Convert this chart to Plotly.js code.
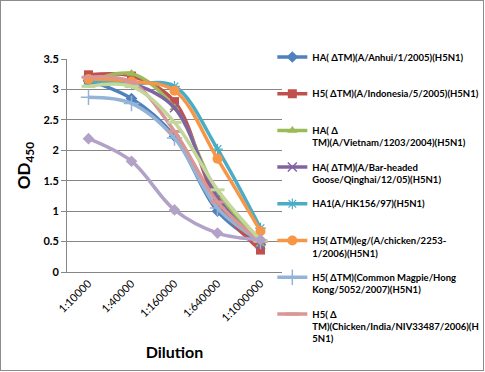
<!DOCTYPE html>
<html>
<head>
<meta charset="utf-8">
<script src="https://cdn.plot.ly/plotly-3.0.1.min.js"></script>
<style>
  html, body { margin: 0; padding: 0; background: #fff; }
  #wrap { position: relative; width: 485px; height: 372px; }
  #chart { width: 485px; height: 372px; }
  #frame { position: absolute; left: 0; top: 0; width: 484px; height: 371px; box-sizing: border-box;
           border: 1px solid #8c8c8c; pointer-events: none; }
</style>
</head>
<body>
<div id="wrap"><div id="chart"></div><div id="frame"></div></div>
<script>
// ---- data ----
const dilutions = ["1:10000", "1:40000", "1:160000", "1:640000", "1:1000000"];
const yTicks = [0, 0.5, 1, 1.5, 2, 2.5, 3, 3.5];
const yTickLabels = ["0", "0.5", "1", "1.5", "2", "2.5", "3", "3.5"];

const seriesNames = [
  "HA( \u0394TM)(A/Anhui/1/2005)(H5N1)<br>\u00a0",
  "H5( \u0394TM)(A/Indonesia/5/2005)(H5N1)<br>\u00a0",
  "HA( \u0394<br>TM)(A/Vietnam/1203/2004)(H5N1)",
  "HA( \u0394TM)(A/Bar-headed<br>Goose/Qinghai/12/05)(H5N1)",
  "HA1(A/HK156/97)(H5N1)<br>\u00a0",
  "H5( \u0394TM)(eg/(A/chicken/2253-<br>1/2006)(H5N1)",
  "H5( \u0394TM)(Common Magpie/Hong<br>Kong/5052/2007)(H5N1)",
  "H5( \u0394<br>TM)(Chicken/India/NIV33487/2006)(H<br>5N1)",
  "Series 9",
  "Series 10"
];

const anhui     = [3.15, 2.85, 2.23, 1.00, 0.45];
const indonesia = [3.24, 3.22, 2.80, 1.13, 0.36];
const vietnam   = [3.12, 3.26, 2.70, 1.30, 0.45];
const qinghai   = [3.17, 3.10, 2.70, 1.22, 0.45];
const hk156     = [3.13, 3.10, 3.05, 2.02, 0.72];
const chicken2253 = [3.17, 3.13, 2.98, 1.86, 0.67];
const magpie    = [2.87, 2.77, 2.20, 1.05, 0.50];
const india     = [3.20, 3.12, 2.31, 1.15, 0.50];
const series9   = [3.05, 3.05, 2.46, 1.35, 0.52];
const series10  = [2.19, 1.82, 1.02, 0.64, 0.53];

const seriesValues = [anhui, indonesia, vietnam, qinghai, hk156, chicken2253, magpie, india, series9, series10];
const seriesInLegend = [true, true, true, true, true, true, true, true, false, false];

// ---- styles ----
const colors = ["#4F81BD", "#C0504D", "#9BBB59", "#8064A2", "#4BACC6", "#F79646",
                "#95B3D7", "#D99694", "#C3D69B", "#B3A2C7"];
const markers = [
  {symbol: "diamond", size: 9},
  {symbol: "square", size: 9},
  {symbol: "triangle-up", size: 9},
  {symbol: "x-thin-open", size: 9, lw: 1.5},
  {symbol: "asterisk-open", size: 9, lw: 1.2},
  {symbol: "circle", size: 10},
  {symbol: "cross-thin-open", size: 11, lw: 1.5},
  {symbol: "line-ew-open", size: 10, lw: 3},
  {symbol: "line-ew-open", size: 10, lw: 3},
  {symbol: "diamond", size: 9}
];

const traces = seriesValues.map((vals, i) => {
  const m = markers[i];
  const marker = {symbol: m.symbol, size: m.size, color: colors[i]};
  if (m.lw) marker.line = {color: colors[i], width: m.lw};
  return {
    type: "scatter",
    mode: "lines+markers",
    x: dilutions,
    y: vals,
    name: seriesNames[i],
    legendgroup: "g" + i,
    showlegend: seriesInLegend[i],
    line: {color: colors[i], width: 3.5, shape: "spline", smoothing: 1},
    marker: marker
  };
});

const fam = "Lato, 'Open Sans', sans-serif";

const layout = {
  width: 485,
  height: 372,
  margin: {l: 67, r: 203, t: 59, b: 100, autoexpand: false},
  paper_bgcolor: "#fff",
  plot_bgcolor: "#fff",
  font: {family: fam, size: 11, color: "#000"},
  showlegend: true,
  legend: {
    x: 0.955, xanchor: "left",
    y: 1.069, yanchor: "top",
    traceorder: "grouped",
    tracegroupgap: 9,
    valign: "top",
    itemwidth: 30,
    maxheight: 1000,
    font: {family: fam, size: 9.5, color: "#000", weight: "bold"},
    bgcolor: "rgba(0,0,0,0)"
  },
  xaxis: {
    type: "category",
    range: [-0.5, 4.5],
    showline: true,
    linecolor: "#868686",
    linewidth: 1,
    showgrid: false,
    ticks: "",
    tickangle: -45,
    tickfont: {family: fam, size: 11, color: "#000"},
    title: {text: "<b>Dilution</b>", font: {family: fam, size: 16, color: "#000"}, standoff: 23},
    zeroline: false,
    fixedrange: true
  },
  yaxis: {
    range: [0, 3.5],
    tickvals: yTicks,
    ticktext: yTickLabels,
    showline: true,
    linecolor: "#868686",
    linewidth: 1,
    showgrid: true,
    gridcolor: "#868686",
    gridwidth: 1,
    ticks: "outside",
    ticklen: 5,
    tickcolor: "#868686",
    tickfont: {family: fam, size: 11, color: "#000", weight: "bold"},
    title: {text: "<b>OD<sub>450</sub></b>", font: {family: fam, size: 17, color: "#000"}, standoff: 8},
    zeroline: false,
    fixedrange: true
  }
};

Plotly.newPlot("chart", traces, layout, {displayModeBar: false, staticPlot: true});
</script>
</body>
</html>
